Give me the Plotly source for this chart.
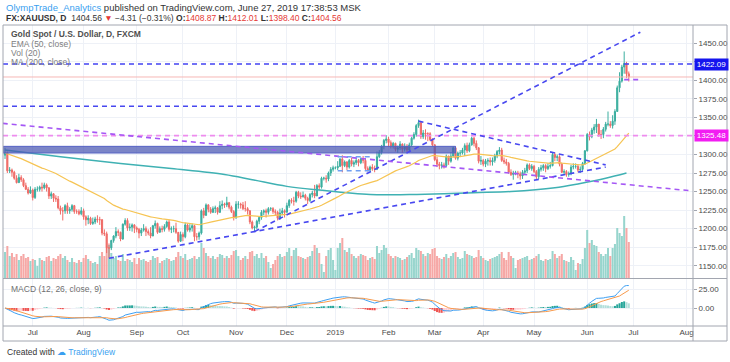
import pandas as pd
import plotly.graph_objects as go

W, H = 730, 362

# ---------------- data (read / estimated from the picture) ----------------
dates = pd.bdate_range("2018-06-14", "2019-06-27")
first_open = 1299.0

closes = [
    1302, 1278,
    1279, 1276, 1268, 1262, 1269,
    1266, 1258, 1253, 1248, 1252,
    1242, 1253, 1253, 1256, 1255,
    1259, 1255, 1244, 1247, 1241,
    1240, 1228, 1224, 1224, 1231,
    1224, 1226, 1231, 1223, 1223,
    1220, 1224, 1216, 1212, 1214,
    1207, 1209, 1213, 1212, 1212,
    1194, 1193, 1174, 1174, 1184,
    1190, 1196, 1195, 1186, 1206,
    1211, 1201, 1202, 1205, 1201,
    1199, 1194, 1198, 1200, 1196,
    1194, 1190, 1204, 1207, 1195,
    1200, 1199, 1203, 1209, 1199,
    1200, 1200, 1195, 1183, 1192,
    1189, 1205, 1198, 1201, 1204,
    1189, 1189, 1194, 1224, 1218,
    1232, 1226, 1222, 1227, 1228,
    1222, 1231, 1233, 1232, 1235,
    1229, 1223, 1215, 1233, 1233,
    1232, 1227, 1227, 1224, 1209,
    1201, 1202, 1210, 1215, 1222,
    1224, 1222, 1227, 1227, 1223,
    1222, 1214, 1221, 1224, 1222,
    1231, 1238, 1237, 1237, 1249,
    1244, 1243, 1245, 1241, 1238,
    1246, 1248, 1244, 1258, 1256,
    1268, 1268, 1267, 1275, 1280,
    1282, 1282, 1284, 1294, 1285,
    1290, 1283, 1292, 1287, 1289,
    1292, 1289, 1294, 1292, 1281,
    1279, 1283, 1281, 1280, 1297,
    1303, 1311, 1319, 1321, 1316,
    1311, 1315, 1307, 1309, 1314,
    1307, 1311, 1306, 1313, 1322,
    1327, 1339, 1343, 1324, 1329,
    1328, 1328, 1320, 1313, 1293,
    1287, 1285, 1286, 1285, 1298,
    1291, 1298, 1309, 1295, 1302,
    1302, 1306, 1312, 1305, 1313,
    1322, 1315, 1309, 1291, 1292,
    1287, 1291, 1292, 1290, 1292,
    1298, 1304, 1306, 1292, 1290,
    1288, 1276, 1273, 1275, 1275,
    1274, 1271, 1276, 1278, 1286,
    1281, 1284, 1277, 1270, 1280,
    1282, 1285, 1281, 1284, 1285,
    1300, 1296, 1297, 1287, 1276,
    1277, 1273, 1274, 1283, 1284,
    1284, 1279, 1280, 1288, 1305,
    1327, 1324, 1333, 1337, 1341,
    1327, 1327, 1334, 1341, 1341,
    1339, 1345, 1358, 1390, 1399,
    1418, 1423, 1408.87, 1404.56,
]

highs = [
    1309, 1304,
    1283, 1281, 1278, 1272, 1274,
    1272, 1268, 1262, 1256, 1257,
    1254, 1256, 1257, 1258, 1262,
    1262, 1261, 1256, 1250, 1248,
    1245, 1244, 1231, 1229, 1233,
    1235, 1229, 1233, 1232, 1226,
    1226, 1229, 1227, 1218, 1218,
    1216, 1215, 1216, 1218, 1216,
    1213, 1199, 1196, 1180, 1185,
    1191, 1202, 1199, 1196, 1207,
    1214, 1214, 1207, 1207, 1206,
    1203, 1201, 1201, 1206, 1203,
    1199, 1202, 1205, 1211, 1208,
    1203, 1204, 1206, 1211, 1212,
    1203, 1204, 1208, 1195, 1196,
    1195, 1208, 1207, 1206, 1207,
    1205, 1194, 1196, 1226, 1228,
    1234, 1233, 1229, 1230, 1231,
    1229, 1237, 1238, 1235, 1243,
    1236, 1231, 1225, 1237, 1237,
    1235, 1236, 1237, 1229, 1225,
    1211, 1204, 1212, 1217, 1225,
    1226, 1227, 1229, 1229, 1229,
    1226, 1224, 1227, 1228, 1226,
    1235, 1240, 1241, 1243, 1251,
    1251, 1249, 1250, 1247, 1243,
    1248, 1251, 1259, 1260, 1261,
    1270, 1270, 1272, 1277, 1283,
    1285, 1284, 1291, 1295, 1299,
    1292, 1291, 1294, 1296, 1292,
    1295, 1294, 1296, 1298, 1295,
    1284, 1285, 1287, 1285, 1304,
    1306, 1313, 1321, 1326, 1324,
    1319, 1317, 1316, 1312, 1318,
    1315, 1315, 1314, 1316, 1324,
    1330, 1341, 1347, 1345, 1333,
    1334, 1330, 1330, 1322, 1314,
    1297, 1290, 1290, 1289, 1300,
    1298, 1303, 1311, 1311, 1304,
    1306, 1309, 1315, 1316, 1316,
    1324, 1324, 1319, 1310, 1298,
    1294, 1294, 1295, 1296, 1296,
    1301, 1306, 1310, 1309, 1296,
    1294, 1290, 1280, 1278, 1278,
    1278, 1277, 1279, 1282, 1288,
    1288, 1287, 1286, 1279, 1283,
    1286, 1287, 1287, 1288, 1290,
    1302, 1303, 1300, 1299, 1289,
    1280, 1279, 1277, 1286, 1288,
    1288, 1287, 1284, 1290, 1306,
    1329, 1331, 1336, 1341, 1348,
    1341, 1333, 1337, 1344, 1358,
    1345, 1353, 1361, 1393, 1411,
    1421, 1439, 1425, 1412.01,
]

lows = [
    1294, 1275,
    1275, 1270, 1266, 1261, 1262,
    1263, 1256, 1252, 1246, 1247,
    1238, 1240, 1250, 1250, 1250,
    1253, 1250, 1240, 1240, 1236,
    1236, 1226, 1219, 1211, 1220,
    1220, 1220, 1223, 1220, 1220,
    1218, 1218, 1212, 1204, 1206,
    1205, 1205, 1206, 1208, 1205,
    1191, 1190, 1167, 1160, 1171,
    1181, 1187, 1190, 1183, 1185,
    1204, 1197, 1197, 1196, 1194,
    1195, 1187, 1190, 1196, 1190,
    1191, 1187, 1190, 1200, 1193,
    1195, 1195, 1196, 1201, 1196,
    1194, 1195, 1193, 1181, 1182,
    1183, 1187, 1196, 1195, 1196,
    1183, 1184, 1185, 1192, 1214,
    1217, 1222, 1220, 1221, 1221,
    1219, 1221, 1226, 1228, 1229,
    1226, 1221, 1211, 1213, 1227,
    1227, 1225, 1223, 1219, 1206,
    1199, 1196, 1199, 1206, 1212,
    1218, 1215, 1219, 1224, 1220,
    1218, 1211, 1212, 1218, 1215,
    1222, 1228, 1234, 1231, 1235,
    1241, 1240, 1242, 1238, 1233,
    1236, 1242, 1241, 1244, 1252,
    1254, 1265, 1262, 1264, 1271,
    1277, 1280, 1279, 1283, 1276,
    1283, 1279, 1281, 1284, 1283,
    1286, 1284, 1287, 1288, 1279,
    1277, 1276, 1278, 1276, 1279,
    1295, 1300, 1307, 1315, 1310,
    1308, 1308, 1304, 1302, 1306,
    1302, 1304, 1303, 1304, 1311,
    1320, 1324, 1336, 1321, 1321,
    1320, 1318, 1318, 1311, 1291,
    1283, 1280, 1281, 1281, 1283,
    1286, 1289, 1296, 1293, 1292,
    1297, 1300, 1298, 1302, 1303,
    1312, 1311, 1306, 1288, 1286,
    1284, 1283, 1285, 1285, 1285,
    1289, 1295, 1300, 1290, 1287,
    1285, 1274, 1271, 1266, 1272,
    1268, 1266, 1267, 1272, 1275,
    1279, 1278, 1275, 1267, 1267,
    1277, 1278, 1276, 1279, 1281,
    1284, 1291, 1291, 1284, 1275,
    1273, 1270, 1270, 1272, 1280,
    1281, 1276, 1275, 1278, 1286,
    1304, 1319, 1322, 1328, 1329,
    1324, 1321, 1322, 1331, 1338,
    1336, 1335, 1340, 1358, 1384,
    1397, 1409, 1403, 1398.40,
]

volumes = [
    26, 32,
    22, 25, 21, 24, 18,
    22, 24, 20, 21, 17,
    19, 18, 12, 20, 18,
    17, 21, 22, 17, 20,
    19, 22, 24, 20, 22,
    18, 16, 20, 16, 15,
    18, 16, 20, 23, 19,
    17, 15, 16, 14, 22,
    26, 22, 30, 33, 25,
    20, 22, 18, 17, 24,
    17, 19, 18, 16, 20,
    14, 20, 18, 19, 17,
    16, 18, 22, 20, 21,
    15, 17, 18, 20, 19,
    17, 18, 21, 26, 22,
    20, 24, 18, 19, 20,
    22, 19, 21, 35, 30,
    25, 22, 20, 22, 19,
    21, 24, 23, 20, 22,
    20, 23, 27, 28, 22,
    18, 20, 22, 19, 26,
    27, 22, 24, 20, 25,
    20, 22, 16, 10, 14,
    18, 22, 24, 21, 22,
    26, 30, 22, 28, 30,
    22, 21, 20, 19, 21,
    22, 27, 33, 30, 25,
    14, 6, 22, 28, 30,
    18, 8, 30, 35, 40,
    28, 26, 30, 24, 22,
    20, 22, 24, 23, 22,
    18, 20, 21, 19, 32,
    25, 28, 33, 30, 24,
    22, 20, 22, 21, 20,
    18, 19, 21, 23, 25,
    20, 30, 28, 27, 24,
    22, 25, 24, 29, 30,
    22, 20, 19, 21, 24,
    20, 22, 25, 26, 21,
    19, 20, 27, 24, 23,
    22, 20, 21, 28, 22,
    20, 18, 17, 19, 20,
    21, 22, 24, 26, 20,
    18, 26, 22, 20, 10,
    18, 19, 20, 21, 22,
    18, 19, 20, 22, 24,
    18, 17, 19, 18, 19,
    27, 24, 20, 22, 24,
    18, 17, 16, 21, 18,
    8, 15, 14, 19, 30,
    48, 35, 38, 33, 32,
    26, 24, 22, 24, 30,
    22, 30, 34, 50, 45,
    42, 62, 50, 36,
]

# 200-day MA at a few dates
ma200_dates = ["2018-06-14", "2018-07-18", "2018-08-23", "2018-09-24", "2018-10-25",
               "2018-11-12", "2018-12-03", "2018-12-21", "2019-01-22", "2019-02-14",
               "2019-03-07", "2019-03-26", "2019-04-17", "2019-05-14", "2019-05-29",
               "2019-06-13", "2019-06-26"]
ma200_vals = [1306, 1297, 1288, 1281, 1273, 1266, 1257, 1252, 1246, 1246,
              1247, 1248.5, 1250, 1255, 1261, 1268, 1275]

# drawings
hline_full = [(1422.09, "#4343f2", "1422.09", "#1515ee"),
              (1325.48, "#ee8cee", "1325.48", "#f21cf2")]
last_price = 1404.56
trendlines = [  # (date0, price0, date1, price1, color)
    ("2018-08-16", 1160, "2019-06-13", 1283, "#4848f0"),
    ("2018-11-13", 1196, "2019-07-04", 1465, "#4848f0"),
    ("2019-02-20", 1345, "2019-06-13", 1286, "#4848f0"),
    ("2018-06-13", 1342, "2019-08-05", 1251, "#a557f5"),
    ("2019-06-25", 1401, "2019-07-04", 1401, "#a557f5"),
    ("2018-06-13 03:00", 1365, "2019-03-28", 1365, "#4848f0"),
    ("2019-01-02", 1297, "2019-01-23", 1297, "#6f9ff2"),
    ("2019-01-02", 1278, "2019-01-23", 1278, "#6f9ff2"),
]
zone = ("2018-06-13 03:00", 1302, "2019-03-14", 1311)

month_ticks = ["2018-07-02", "2018-08-01", "2018-09-03", "2018-10-01", "2018-11-01",
               "2018-12-03", "2019-01-01", "2019-02-01", "2019-03-01", "2019-04-01",
               "2019-05-01", "2019-06-03", "2019-07-01", "2019-08-01"]
month_text = ["Jul", "Aug", "Sep", "Oct", "Nov", "Dec", "2019", "Feb", "Mar", "Apr",
              "May", "Jun", "Jul", "Aug"]
price_ticks = list(range(1150, 1451, 25))
hidden_price_ticks = [1325, 1425]   # covered by the price-line labels

n = len(dates)
for nm, arr in [("closes", closes), ("highs", highs), ("lows", lows), ("volumes", volumes)]:
    if len(arr) != n:
        raise SystemExit(f"{nm} has {len(arr)} values, expected {n}")

opens = [first_open] + closes[:-1]
highs = [max(h, o, c) for h, o, c in zip(highs, opens, closes)]
lows = [min(l, o, c) for l, o, c in zip(lows, opens, closes)]

cs = pd.Series(closes, index=dates, dtype=float)
ema50 = cs.ewm(span=50, adjust=False).mean()
macd = cs.ewm(span=12, adjust=False).mean() - cs.ewm(span=26, adjust=False).mean()
signal = macd.ewm(span=9, adjust=False).mean()
hist = macd - signal

UP, DN = "#3aae9f", "#ef6b67"
VUP, VDN = "#97d5cd", "#f6a8a6"

hist_colors = []
prev = 0.0
for h in hist:
    if h >= 0:
        hist_colors.append("#26a69a" if h >= prev else "#b2dfdb")
    else:
        hist_colors.append("#ef5350" if h < prev else "#ffcdd2")
    prev = h

vol_colors = [VUP if c >= o else VDN for o, c in zip(opens, closes)]

# ---------------- geometry ----------------
def px(x):
    return x / W

def py(y):
    return 1 - y / H

X0, X1 = 3, 693
MAIN_T, MAIN_B = 25, 278
MACD_T, MACD_B = 279, 326
x_range = ["2018-06-13 03:00", "2019-08-05 19:00"]
GRID = "#eef1f7"
FRAME = "#a2a6b0"
TXT = "#4a4a4a"
FONT = "Liberation Sans, Arial, sans-serif"

fig = go.Figure()

fig.add_trace(go.Bar(x=dates, y=volumes, marker=dict(color=vol_colors, line=dict(width=0)),
                     xaxis="x", yaxis="y", hoverinfo="skip", showlegend=False))
fig.add_trace(go.Scatter(x=ma200_dates, y=ma200_vals, mode="lines",
                         line=dict(color="#3fb1b3", width=1.5, shape="spline"),
                         xaxis="x", yaxis="y2", hoverinfo="skip", showlegend=False))
fig.add_trace(go.Scatter(x=dates, y=ema50, mode="lines",
                         line=dict(color="#f6c453", width=1.2),
                         xaxis="x", yaxis="y2", hoverinfo="skip", showlegend=False))
fig.add_trace(go.Candlestick(x=dates, open=opens, high=highs, low=lows, close=closes,
                             increasing=dict(line=dict(color=UP, width=1), fillcolor=UP),
                             decreasing=dict(line=dict(color=DN, width=1), fillcolor=DN),
                             whiskerwidth=0, xaxis="x", yaxis="y2",
                             hoverinfo="skip", showlegend=False))

fig.add_trace(go.Bar(x=dates, y=hist, marker=dict(color=hist_colors, line=dict(width=0)),
                     xaxis="x2", yaxis="y3", hoverinfo="skip", showlegend=False))
fig.add_trace(go.Scatter(x=dates, y=macd, mode="lines", line=dict(color="#3d9ff2", width=1),
                         xaxis="x2", yaxis="y3", hoverinfo="skip", showlegend=False))
fig.add_trace(go.Scatter(x=dates, y=signal, mode="lines", line=dict(color="#f89a4c", width=1),
                         xaxis="x2", yaxis="y3", hoverinfo="skip", showlegend=False))

shapes = []
shapes.append(dict(type="rect", xref="x", yref="y2", x0=zone[0], y0=zone[1], x1=zone[2], y1=zone[3],
                   fillcolor="rgba(72,86,178,0.72)", line=dict(color="#5563c4", width=1), layer="above"))
shapes.append(dict(type="line", xref="x domain", yref="y2", x0=0, x1=1, y0=last_price, y1=last_price,
                   line=dict(color="#f6b8b6", width=1), layer="above"))
for val, col, _, _ in hline_full:
    shapes.append(dict(type="line", xref="x domain", yref="y2", x0=0, x1=1, y0=val, y1=val,
                       line=dict(color=col, width=1.6, dash="5px,4px"), layer="above"))
for d0, p0, d1, p1, col in trendlines:
    shapes.append(dict(type="line", xref="x", yref="y2", x0=d0, y0=p0, x1=d1, y1=p1,
                       line=dict(color=col, width=1.6, dash="5px,4px"), layer="above"))

# frame
shapes.append(dict(type="rect", xref="paper", yref="paper", x0=px(3), x1=px(727), y0=py(341), y1=py(25),
                   line=dict(color=FRAME, width=1), layer="above"))
shapes.append(dict(type="line", xref="paper", yref="paper", x0=px(693), x1=px(693), y0=py(341), y1=py(25),
                   line=dict(color=FRAME, width=1), layer="above"))
for yy in (278.5, 326):
    shapes.append(dict(type="line", xref="paper", yref="paper", x0=px(3), x1=px(727), y0=py(yy), y1=py(yy),
                       line=dict(color=FRAME, width=1), layer="above"))

ann = []
ann.append(dict(xref="paper", yref="paper", x=px(4), y=py(7), xanchor="left", yanchor="middle",
                showarrow=False, font=dict(family=FONT, size=9.5, color="#333333"),
                text="<span style='color:#3a9ff0'>OlympTrade_Analytics</span> published on TradingView.com, June 27, 2019 17:38:53 MSK"))
RED = "#e53935"
ann.append(dict(xref="paper", yref="paper", x=px(4), y=py(18.5), xanchor="left", yanchor="middle",
                showarrow=False, font=dict(family=FONT, size=8.5, color="#333333"),
                text=(f"<b>FX:XAUUSD, D</b>  1404.56 <span style='color:{RED}'>▼</span> −4.31 (−0.31%) "
                      f"<b>O:</b><span style='color:{RED}'>1408.87</span> <b>H:</b><span style='color:{RED}'>1412.01</span> "
                      f"<b>L:</b><span style='color:{RED}'>1398.40</span> <b>C:</b><span style='color:{RED}'>1404.56</span>")))
legend_rows = [("Gold Spot / U.S. Dollar, D, FXCM", 34, "#505050", True),
               ("EMA (50, close)", 43.5, "#808080", False),
               ("Vol (20)", 53, "#808080", False),
               ("MA (200, close)", 62.5, "#808080", False)]
for t, yy, col, bold in legend_rows:
    ann.append(dict(xref="paper", yref="paper", x=px(9), y=py(yy), xanchor="left", yanchor="middle",
                    showarrow=False, font=dict(family=FONT, size=8.5, color=col),
                    text=f"<b>{t}</b>" if bold else t))
ann.append(dict(xref="paper", yref="paper", x=px(9), y=py(289), xanchor="left", yanchor="middle",
                showarrow=False, font=dict(family=FONT, size=8.5, color="#707070"),
                text="MACD (12, 26, close, 9)"))
for val, _, lab, bg in hline_full:
    ann.append(dict(xref="paper", yref="y2", x=px(693.5), y=val, xanchor="left", yanchor="middle",
                    showarrow=False, bgcolor=bg, borderpad=1, width=31,
                    font=dict(family=FONT, size=8, color="white"), text=lab))
ann.append(dict(xref="paper", yref="paper", x=px(5), y=py(352), xanchor="left", yanchor="middle",
                showarrow=False, font=dict(family=FONT, size=8.5, color="#333333"),
                text="Created with <span style='color:#3a9ff0'>☁ TradingView</span>"))

axis_common = dict(showline=False, zeroline=False, gridcolor=GRID, gridwidth=1, showgrid=True)

fig.update_layout(
    width=W, height=H, margin=dict(l=0, r=0, t=0, b=0),
    paper_bgcolor="white", plot_bgcolor="white",
    showlegend=False, bargap=0.12, hovermode=False,
    shapes=shapes, annotations=ann,
    xaxis=dict(domain=[px(X0), px(X1)], anchor="y", type="date", range=x_range,
               rangebreaks=[dict(bounds=["sat", "mon"])],
               tickvals=month_ticks, showticklabels=False, ticks="",
               rangeslider=dict(visible=False), **axis_common),
    xaxis2=dict(domain=[px(X0), px(X1)], anchor="y3", type="date", range=x_range, matches="x",
                rangebreaks=[dict(bounds=["sat", "mon"])],
                tickvals=month_ticks, ticktext=month_text, ticks="",
                tickfont=dict(family=FONT, size=8, color=TXT), **axis_common),
    yaxis=dict(domain=[py(MAIN_B), py(MAIN_T)], anchor="x", range=[0, MAIN_B - MAIN_T],
               visible=False, showgrid=False),
    yaxis2=dict(overlaying="y", anchor="x", side="right", range=[1133.4, 1474.7],
                tickvals=price_ticks,
                ticktext=["" if v in hidden_price_ticks else f"{v:.2f}" for v in price_ticks],
                ticks="outside", ticklen=3, tickcolor=FRAME,
                tickfont=dict(family=FONT, size=8, color=TXT), **axis_common),
    yaxis3=dict(domain=[py(MACD_B), py(MACD_T)], anchor="x2", side="right", range=[-23.7, 38.2],
                tickvals=[0, 25], ticktext=["0.00", "25.00"],
                ticks="outside", ticklen=3, tickcolor=FRAME,
                tickfont=dict(family=FONT, size=8, color=TXT), **axis_common),
)

fig.write_html("out.html", config={"displayModeBar": False, "staticPlot": True},
               post_script="document.body.style.margin='0';document.body.style.overflow='hidden';")
